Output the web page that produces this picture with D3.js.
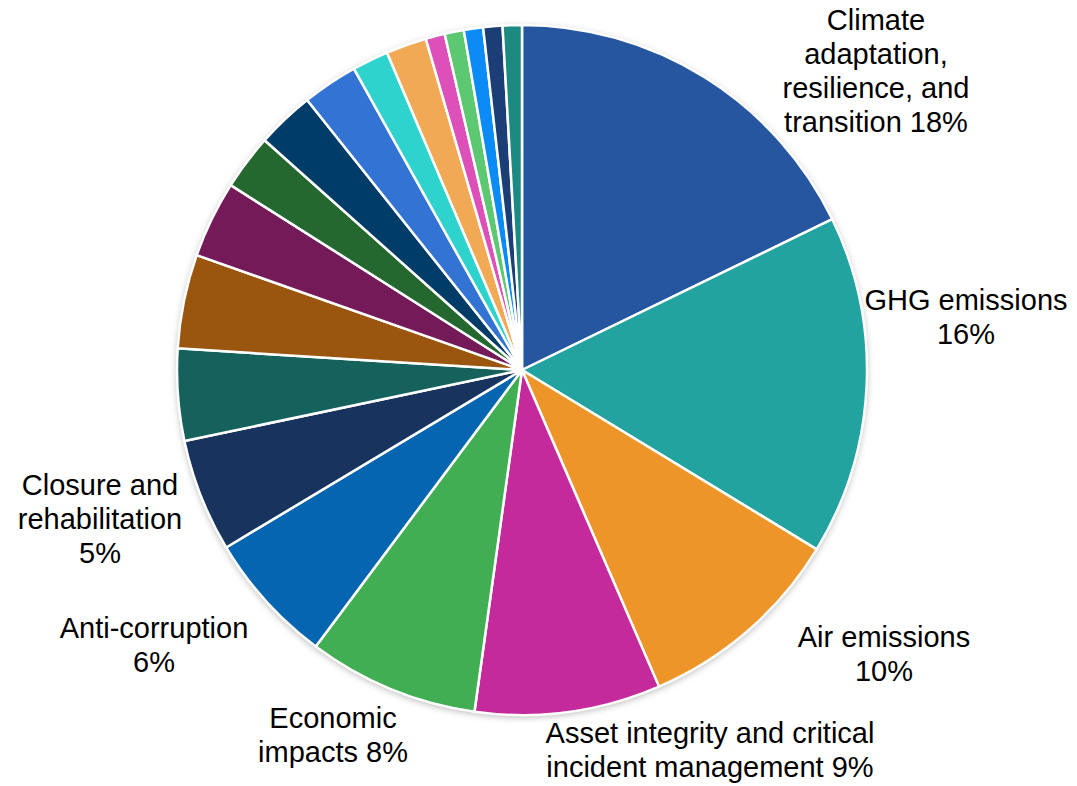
<!DOCTYPE html>
<html>
<head>
<meta charset="utf-8">
<script src="https://cdn.jsdelivr.net/npm/d3@7"></script>
<style>
  html, body { margin: 0; padding: 0; background: #ffffff; }
  svg { display: block; }
  text { font-family: "Liberation Sans", Arial, sans-serif; fill: #000; }
</style>
</head>
<body>
<svg id="chart" width="1077" height="786"></svg>
<script>
// ---- data ----
const categories = [
  "Climate adaptation, resilience, and transition",
  "GHG emissions",
  "Air emissions",
  "Asset integrity and critical incident management",
  "Economic impacts",
  "Anti-corruption",
  "Closure and rehabilitation",
  "Topic 8", "Topic 9", "Topic 10", "Topic 11", "Topic 12", "Topic 13",
  "Topic 14", "Topic 15", "Topic 16", "Topic 17", "Topic 18", "Topic 19", "Topic 20"
];
const values = [17.8, 15.9, 9.8, 8.7, 8.0, 6.2, 5.3, 4.3, 4.4, 3.6, 2.6, 2.7, 2.6, 1.7, 1.9, 0.9, 0.9, 0.9, 0.9, 0.9];
const colors = [
  "#2656A0", "#22A39F", "#EE952A", "#C42A9C", "#41AE53", "#0565B0", "#17335E",
  "#15625D", "#9A560E", "#751A59", "#246830", "#003C68", "#3273D4", "#2ED3CE",
  "#F2A955", "#DD4FB9", "#5CC872", "#0A8BF5", "#1C3E76", "#1C8A80"
];
// label lines (last line gets percentage appended)
const labelLines = [
  ["Climate", "adaptation,", "resilience, and", "transition {p}"],
  ["GHG emissions", "{p}"],
  ["Air emissions", "{p}"],
  ["Asset integrity and critical", "incident management {p}"],
  ["Economic", "impacts {p}"],
  ["Anti-corruption", "{p}"],
  ["Closure and", "rehabilitation", "{p}"]
];
const labelAnchors = [
  [876, 20], [966, 300], [884, 637], [710, 733], [333, 718], [154, 628], [100, 485]
];

// ---- chart ----
const svg = d3.select("#chart");
const cx = 522, cy = 370, r = 345;

const defs = svg.append("defs");
const f = defs.append("filter").attr("id", "shadow")
  .attr("x", "-10%").attr("y", "-10%").attr("width", "120%").attr("height", "120%");
f.append("feDropShadow").attr("dx", 0).attr("dy", 2).attr("stdDeviation", 3.5)
  .attr("flood-color", "#000").attr("flood-opacity", 0.3);

const total = d3.sum(values);
const data = categories.map((c, i) => ({ cat: c, value: values[i], color: colors[i], i }));

const pie = d3.pie().value(d => d.value).sort(null);
const arc = d3.arc().innerRadius(0).outerRadius(r);
const arcs = pie(data);

const g = svg.append("g").attr("transform", `translate(${cx},${cy})`);
// shadow base
g.append("circle").attr("r", r).attr("fill", "#ffffff").attr("filter", "url(#shadow)");
g.selectAll("path.slice")
  .data(arcs)
  .join("path")
  .attr("class", "slice")
  .attr("d", arc)
  .attr("fill", d => d.data.color)
  .attr("stroke", "#ffffff")
  .attr("stroke-width", 2.5)
  .attr("stroke-linejoin", "round");

// labels
const fmt = v => Math.round(v / total * 100) + "%";
labelLines.forEach((lines, i) => {
  const [x, y] = labelAnchors[i];
  const t = svg.append("text")
    .attr("text-anchor", "middle")
    .attr("font-size", 29);
  lines.forEach((ln, j) => {
    t.append("tspan")
      .attr("x", x)
      .attr("y", y + j * 34)
      .attr("dy", "0.35em")
      .text(ln.replace("{p}", fmt(values[i])));
  });
});
</script>
</body>
</html>
